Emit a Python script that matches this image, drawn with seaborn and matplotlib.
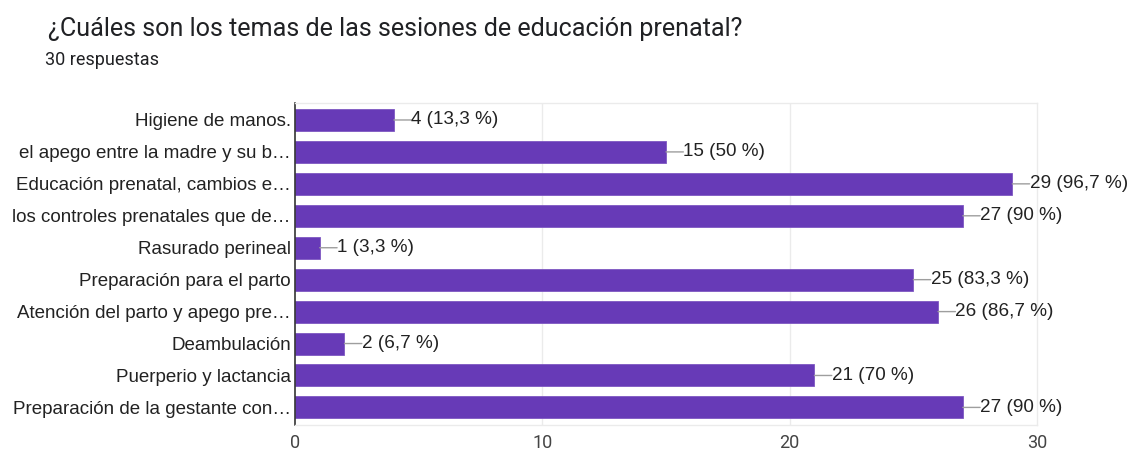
import matplotlib
matplotlib.use("Agg")
import matplotlib.pyplot as plt
import seaborn as sns
import pandas as pd

categories = [
    "Higiene de manos.",
    "el apego entre la madre y su b…",
    "Educación prenatal, cambios e…",
    "los controles prenatales que de…",
    "Rasurado perineal",
    "Preparación para el parto",
    "Atención del parto y apego pre…",
    "Deambulación",
    "Puerperio y lactancia",
    "Preparación de la gestante con…",
]
counts = [4, 15, 29, 27, 1, 25, 26, 2, 21, 27]
pct_labels = ["13,3 %", "50 %", "96,7 %", "90 %", "3,3 %", "83,3 %", "86,7 %", "6,7 %", "70 %", "90 %"]
xticks = [0, 10, 20, 30]

sns.set_theme(style="white")
plt.rcParams["font.family"] = ["Liberation Sans", "DejaVu Sans"]

df = pd.DataFrame({"cat": categories, "n": counts})

fig = plt.figure(figsize=(11.29, 4.5), dpi=100)
ax = fig.add_axes([0.2613, 0.0556, 0.6572, 0.7154])

sns.barplot(data=df, y="cat", x="n", orient="h", color="#673AB7", saturation=1,
            width=0.69, ax=ax, edgecolor="#7e57c2", linewidth=0.6)

ax.set_xlim(0, 30)
ax.set_ylim(9.55, -0.53)
ax.set_xticks(xticks)
ax.set_xticklabels([str(t) for t in xticks], fontsize=13, color="#444444", family="Roboto")
ax.tick_params(axis="x", length=0, pad=6.5)
ax.tick_params(axis="y", length=0, pad=3, labelsize=13.5, labelcolor="#222222")
ax.set_xlabel("")
ax.set_ylabel("")
for t in xticks[1:-1]:
    ax.axvline(t, color="#ebebeb", lw=1, zorder=0)
for s in ["top", "right", "bottom"]:
    ax.spines[s].set_color("#ebebeb")
    ax.spines[s].set_linewidth(1)
ax.spines["left"].set_color("#333333")
ax.spines["left"].set_linewidth(1.2)

for i, (n, p) in enumerate(zip(counts, pct_labels)):
    ax.annotate("", xy=(n, i), xytext=(12.5, 0), textcoords="offset points",
                arrowprops=dict(arrowstyle="-", color="#9e9e9e", lw=1, shrinkA=0, shrinkB=0))
    ax.annotate(f"{n} ({p})", xy=(n, i), xytext=(12.5, 0), textcoords="offset points",
                ha="left", va="center", fontsize=13.6, color="#222222")

fig.text(0.0425, 0.935, "¿Cuáles son los temas de las sesiones de educación prenatal?",
         fontsize=18.1, color="#202124", family="Roboto", va="center")
fig.text(0.04, 0.866, "30 respuestas", fontsize=13, color="#202124", family="Roboto", va="center")

fig.savefig("out.png", dpi=100)
